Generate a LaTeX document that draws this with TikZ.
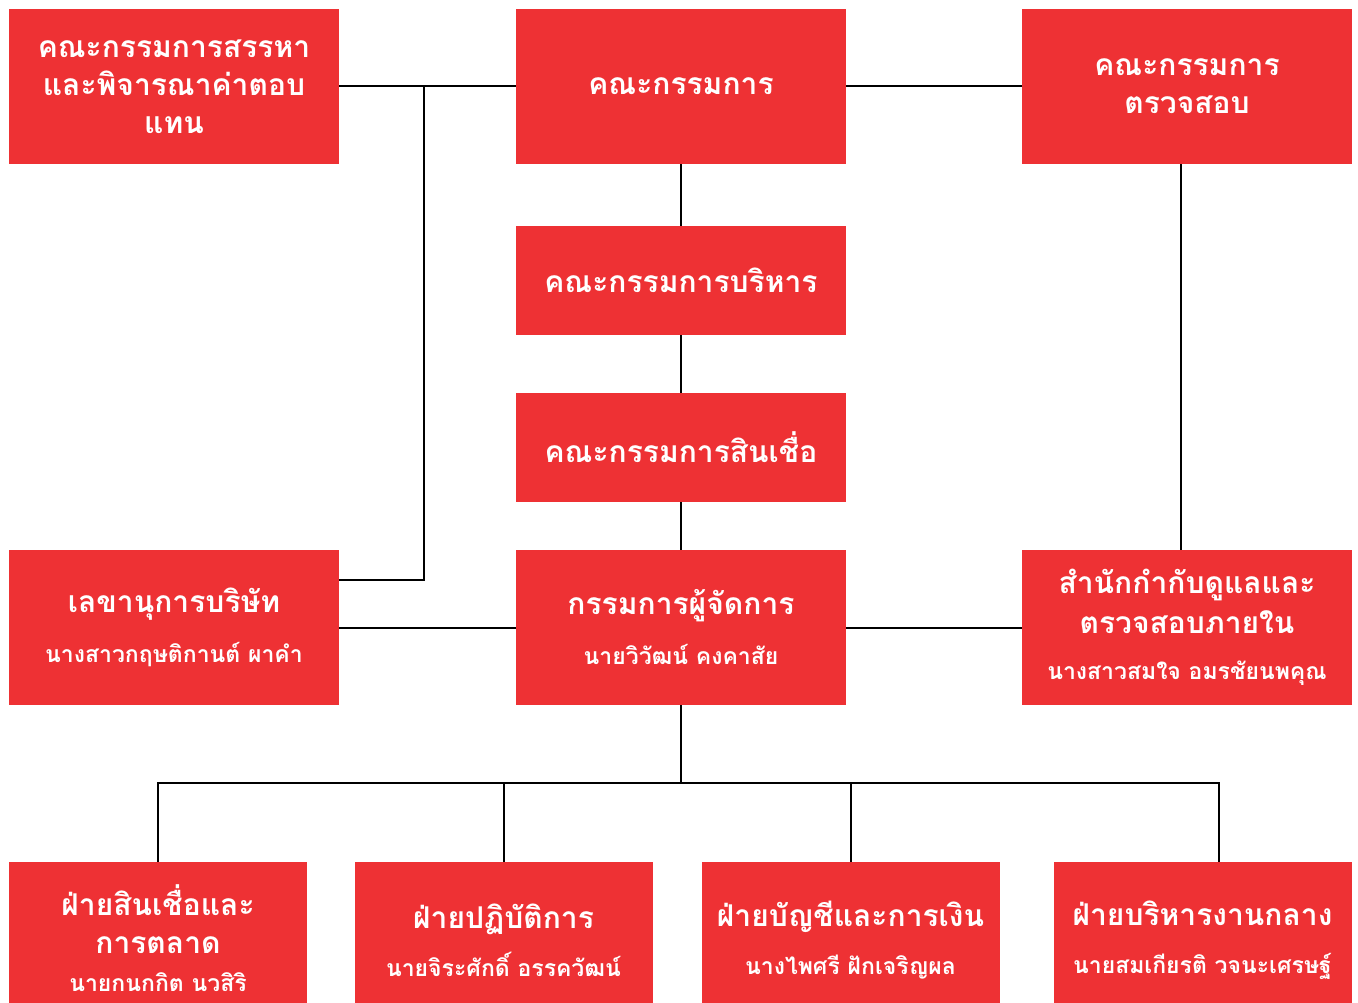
\documentclass[tikz,border=0pt]{standalone}
\usepackage{fontspec}
\newfontfamily\thaif[Script=Thai]{Loma}
\usetikzlibrary{calc}
\definecolor{boxred}{HTML}{EE3134}
\newcommand\ttlf{\fontsize{30}{38}\selectfont}
\newcommand\nmf{\fontsize{23}{28}\selectfont}
\begin{document}
\begin{tikzpicture}[x=1pt,y=-1pt,
  box/.style={fill=boxred,draw=none,inner sep=0pt,text=white,align=center,font=\thaif\bfseries\ttlf},
  wide/.style={box,minimum width=330pt},
  low/.style={box,minimum width=298pt,minimum height=156pt},
  conn/.style={draw=black,line width=2pt}]
\useasboundingbox (0,0) rectangle (1358,1003);
\clip (0,0) rectangle (1358,1003);
\fill[white] (0,0) rectangle (1358,1003);
% top row
\node[wide,minimum height=155pt] (nom) at (174,86.5) {คณะกรรมการสรรหา\\และพิจารณาค่าตอบ\\แทน};
\node[wide,minimum height=155pt] (board) at (681,86.5) {คณะกรรมการ};
\node[wide,minimum height=155pt] (aud) at (1187,86.5) {คณะกรรมการ\\ตรวจสอบ};
% middle column
\node[wide,minimum height=109pt] (exec) at (681,280.5) {คณะกรรมการบริหาร};
\node[wide,minimum height=109pt] (cred) at (681,447.5) {คณะกรรมการสินเชื่อ};
% md row
\node[wide,minimum height=155pt] (sec) at (174,627.5) {เลขานุการบริษัท\\[12pt]{\nmf นางสาวกฤษติกานต์ ผาคำ}};
\node[wide,minimum height=155pt] (md) at (681,627.5) {กรรมการผู้จัดการ\\[12pt]{\nmf นายวิวัฒน์ คงคาสัย}};
\node[wide,minimum height=155pt] (ia) at (1187,627.5) {สำนักกำกับดูแลและ\\[2pt]ตรวจสอบภายใน\\[8pt]{\nmf นางสาวสมใจ อมรชัยนพคุณ}};
% departments
\node[low,minimum height=152pt] (d1) at (158,938) {ฝ่ายสินเชื่อและ\\การตลาด\\[0pt]{\nmf นายกนกกิต นวสิริ}};
\node[low] (d2) at (503.5,940) {ฝ่ายปฏิบัติการ\\[10pt]{\nmf นายจิระศักดิ์ อรรควัฒน์}};
\node[low] (d3) at (850.5,940) {ฝ่ายบัญชีและการเงิน\\[10pt]{\nmf นางไพศรี ฝักเจริญผล}};
\node[low] (d4) at (1202.5,940) {ฝ่ายบริหารงานกลาง\\[10pt]{\nmf นายสมเกียรติ วจนะเศรษฐ์}};
% connectors
\coordinate (j1) at (424,86.5);
\coordinate (secin) at (339,580);
\coordinate (bus) at (681,783);
\coordinate (d4top) at (1219,862);
\draw[conn] (board.west) -- (nom.east);
\draw[conn] (board.east) -- (aud.west);
\draw[conn] (j1) |- (secin);
\draw[conn] (board.south) -- (exec.north);
\draw[conn] (exec.south) -- (cred.north);
\draw[conn] (cred.south) -- (md.north);
\draw[conn] ($(aud.south)+(-6,0)$) -- ($(ia.north)+(-6,0)$);
\draw[conn] (md.west) -- (sec.east);
\draw[conn] (md.east) -- (ia.west);
\draw[conn] (md.south) -- (bus);
\draw[conn] (d1.north) |- (bus) -| (d4top);
\draw[conn] (d2.north) -- (d2.north |- bus);
\draw[conn] (d3.north) -- (d3.north |- bus);
\end{tikzpicture}
\end{document}
